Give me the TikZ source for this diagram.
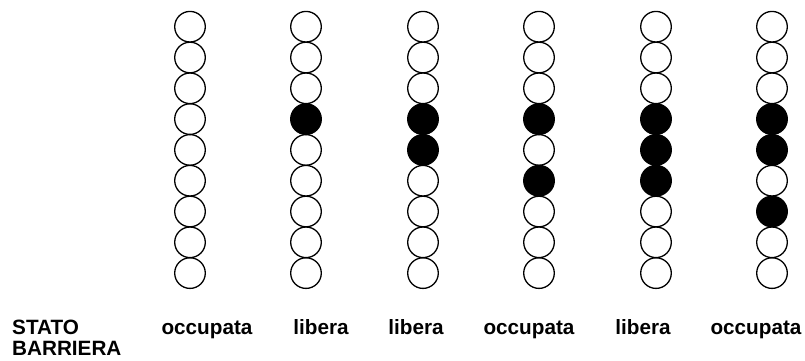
\documentclass[tikz,border=0pt]{standalone}
\usepackage{fontspec}
\setmainfont{Liberation Sans}
\begin{document}
\begin{tikzpicture}[x=1pt,y=-1pt,
  ball/.style={circle,draw=black,line width=1.3pt,minimum size=30.6pt,inner sep=0pt},
  blk/.style={fill=black},
  lab/.style={font=\fontsize{20.7}{23}\selectfont\bfseries,anchor=base,inner sep=0pt},
  st2-4/.style={blk},
  st3-4/.style={blk}, st3-5/.style={blk},
  st4-4/.style={blk}, st4-6/.style={blk},
  st5-4/.style={blk}, st5-5/.style={blk}, st5-6/.style={blk},
  st6-4/.style={blk}, st6-5/.style={blk}, st6-7/.style={blk}]
\useasboundingbox (0,0) rectangle (805,360);
\foreach \c/\x in {1/190,2/306,3/423,4/539,5/656,6/772}{
  \foreach \r in {1,...,9}{
    \node[ball,st\c-\r/.try] (b\c-\r) at (\x,{26.7+(\r-1)*30.8}) {};
  }
}
\node[lab,anchor=base west] (s1) at (12,334) {STATO};
\node[lab,anchor=base west] (s2) at (12,355.5) {BARRIERA};
\node[lab] (l1) at (207,334) {occupata};
\node[lab] (l2) at (321,334) {libera};
\node[lab] (l3) at (416,334) {libera};
\node[lab] (l4) at (529,334) {occupata};
\node[lab] (l5) at (643,334) {libera};
\node[lab] (l6) at (756,334) {occupata};
\end{tikzpicture}
\end{document}
